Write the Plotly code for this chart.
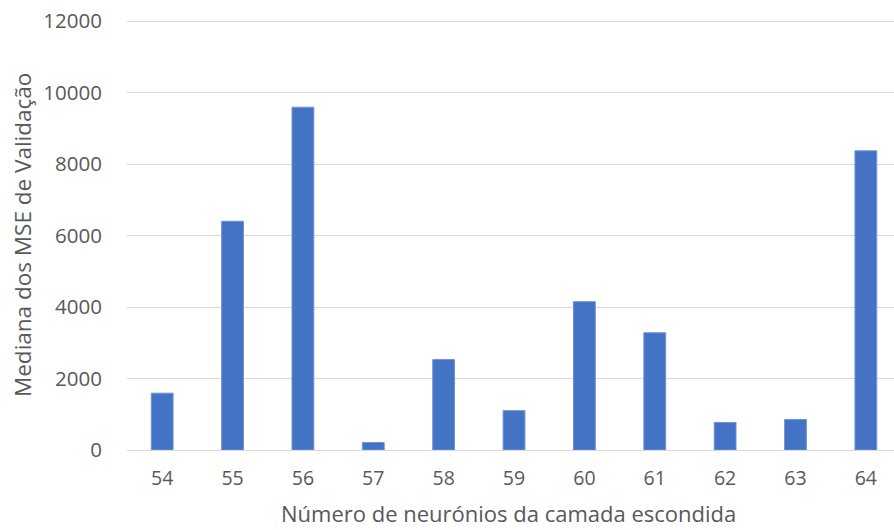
import plotly.graph_objects as go

# Hidden-layer neuron counts and median validation MSE
neurons = ["54", "55", "56", "57", "58", "59", "60", "61", "62", "63", "64"]
median_mse = [1590, 6400, 9590, 210, 2530, 1100, 4150, 3280, 770, 855, 8370]

y_ticks = [0, 2000, 4000, 6000, 8000, 10000, 12000]
x_title = "Número de neurónios da camada escondida"
y_title = "Mediana dos MSE de Validação"

text_color = "#595959"
grid_color = "#d9d9d9"
font_family = "Open Sans, Liberation Sans, sans-serif"

fig = go.Figure(
    go.Bar(
        x=neurons,
        y=median_mse,
        marker=dict(color="#4472C4", line=dict(color="#6f93d4", width=1)),
    )
)

plot_h = 530 - 20 - 80  # plot-area height in px

fig.update_layout(
    width=894,
    height=530,
    margin=dict(l=127, r=0, t=20, b=80),
    paper_bgcolor="white",
    plot_bgcolor="white",
    bargap=0.69,
    showlegend=False,
    font=dict(family=font_family, color=text_color),
    xaxis=dict(
        type="category",
        range=[-0.5, 10.4],
        showgrid=False,
        showline=False,
        ticks="outside",
        ticklen=11,
        tickcolor="rgba(0,0,0,0)",
        tickfont=dict(size=19.5, color=text_color, family=font_family),
    ),
    yaxis=dict(
        range=[0, 12030],
        tickvals=y_ticks,
        ticktext=[str(v) for v in y_ticks],
        showgrid=True,
        gridcolor=grid_color,
        gridwidth=1.3,
        zeroline=True,
        zerolinecolor=grid_color,
        zerolinewidth=1.3,
        showline=False,
        ticks="outside",
        ticklen=20,
        tickcolor="rgba(0,0,0,0)",
        tickfont=dict(size=20.5, color=text_color, family=font_family),
    ),
    annotations=[
        dict(
            text=x_title,
            xref="paper", yref="paper",
            x=(508 - 127) / 767, y=-(513 - 450) / plot_h,
            xanchor="center", yanchor="middle",
            showarrow=False,
            font=dict(size=22, color=text_color, family=font_family),
        ),
        dict(
            text=y_title,
            xref="paper", yref="paper",
            x=(22 - 127) / 767, y=(450 - 235) / plot_h,
            xanchor="center", yanchor="middle",
            textangle=-90,
            showarrow=False,
            font=dict(size=22.5, color=text_color, family=font_family),
        ),
    ],
)

fig.write_html("out.html")
